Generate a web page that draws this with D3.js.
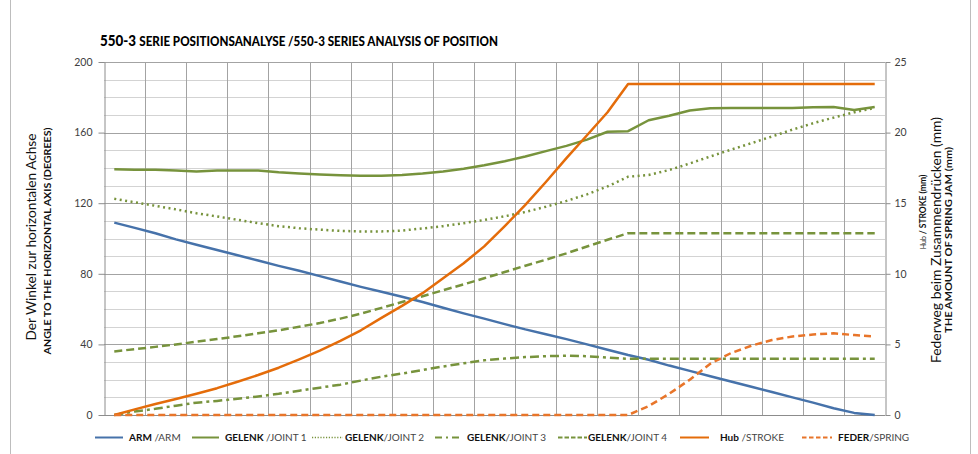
<!DOCTYPE html>
<html>
<head>
<meta charset="utf-8">
<script src="https://cdn.jsdelivr.net/npm/d3@7"></script>
<style>
  body { margin: 0; background: #fff; }
  svg { display: block; font-family: Lato, "Open Sans", sans-serif; }
</style>
</head>
<body>
<div id="chartDiv"></div>
<script>
  const steps = d3.range(38);

  // left axis, degrees
  const arm = [109, 106, 103, 99.5, 96.5, 93.5, 90.5, 87.5, 84.5, 81.7, 78.7, 75.6, 72.6, 69.8, 67, 64, 60.8, 57.6, 54.6, 51.5,
      48.5, 45.8, 43, 40, 37, 34, 31.3, 28, 25, 22, 19, 16, 13, 10, 7, 3.8, 1.2, 0];
  const joint1 = [139.3, 139, 139, 138.5, 138, 138.5, 138.5, 138.5, 137.5, 136.8, 136.3, 135.8, 135.5, 135.5, 136, 136.8, 138, 139.5, 141.5, 143.8,
      146.5, 149.5, 152.5, 156, 160.5, 160.8, 167, 169.5, 172.5, 173.8, 174, 174, 174, 174, 174.3, 174.5, 172.8, 174.5];
  const joint2 = [122.5, 120.5, 118.5, 116.5, 114.3, 112.5, 110.6, 108.7, 107, 105.8, 105, 104.3, 104, 104, 104.5, 105.7, 107, 108.7, 110.5, 112.6,
      115, 118, 121.3, 125, 129.5, 135, 136, 138.8, 142.5, 146.5, 150.3, 154, 157.8, 161.7, 165.3, 168.5, 171.5, 174];
  const joint3 = [0, 2, 3.5, 5.3, 7, 8, 9.2, 10.5, 12, 13.8, 15.5, 17.2, 19.5, 21.7, 23.5, 25.5, 27.5, 29.3, 31, 32,
      32.8, 33.3, 33.6, 33.3, 32.5, 31.8, 31.8, 31.8, 31.8, 31.8, 31.8, 31.8, 31.8, 31.8, 31.8, 31.8, 31.8, 31.8];
  const joint4 = [36, 37.3, 38.6, 40, 41.5, 43, 44.6, 46.3, 48, 50, 52.1, 54.6, 57.4, 60.7, 64, 67.3, 70.7, 74, 77.5, 81,
      84.6, 88, 91.6, 95.5, 99.3, 103, 103, 103, 103, 103, 103, 103, 103, 103, 103, 103, 103, 103];

  // right axis, mm
  const hub = [0, 0.4, 0.78, 1.13, 1.5, 1.9, 2.35, 2.83, 3.35, 3.94, 4.56, 5.25, 6.0, 6.88, 7.73, 8.63, 9.69, 10.75, 11.94, 13.38,
      14.88, 16.5, 18.19, 19.81, 21.44, 23.44, 23.44, 23.44, 23.44, 23.44, 23.44, 23.44, 23.44, 23.44, 23.44, 23.44, 23.44, 23.44];
  const feder = [0, 0, 0, 0, 0, 0, 0, 0, 0, 0, 0, 0, 0, 0, 0, 0, 0, 0, 0, 0,
      0, 0, 0, 0, 0, 0, 0.63, 1.5, 2.5, 3.63, 4.38, 4.91, 5.31, 5.56, 5.7, 5.79, 5.66, 5.56];

  const leftTicks = [0, 40, 80, 120, 160, 200];
  const rightTicks = [0, 5, 10, 15, 20, 25];

  const series = [
      { name: "ARM", rest: " /ARM", values: arm, axis: "left", color: "#4672aa", dash: null, key: null },
      { name: "GELENK", rest: " /JOINT 1", values: joint1, axis: "left", color: "#77933c", dash: null, key: null },
      { name: "GELENK", rest: "/JOINT 2", values: joint2, axis: "left", color: "#77933c", dash: "2,3.5", key: "1.2,1.6" },
      { name: "GELENK", rest: "/JOINT 3", values: joint3, axis: "left", color: "#77933c", dash: "9,4,3,4", key: "7,4,2,4" },
      { name: "GELENK", rest: "/JOINT 4", values: joint4, axis: "left", color: "#77933c", dash: "8,4", key: "4.5,2" },
      { name: "Hub", rest: " /STROKE", values: hub, axis: "right", color: "#e46c0a", dash: null, key: null },
      { name: "FEDER", rest: "/SPRING", values: feder, axis: "right", color: "#e8752a", dash: "7,4", key: "4.5,2.5" }
  ];

  const W = 978, H = 454;
  const plot = { left: 104, right: 885, top: 62, bottom: 415 };

  const svg = d3.select("#chartDiv")
      .append("svg")
      .attr("width", W)
      .attr("height", H);

  // chart frame edges
  svg.append("line").attr("x1", 10.5).attr("x2", 10.5).attr("y1", 0).attr("y2", H).attr("stroke", "#bdbdbd");
  svg.append("line").attr("x1", 970.5).attr("x2", 970.5).attr("y1", 0).attr("y2", H).attr("stroke", "#bdbdbd");

  const x = d3.scaleLinear()
      .domain([-0.5, steps.length - 0.5])
      .range([plot.left, plot.right]);
  const y = d3.scaleLinear().domain([0, 200]).range([plot.bottom, plot.top]);
  const y2 = d3.scaleLinear().domain([0, 25]).range([plot.bottom, plot.top]);

  // horizontal grid: minor every 10 degrees, major at the ticks
  const grid = svg.append("g");
  grid.selectAll("line.minor")
      .data(d3.range(10, 200, 10).filter(v => !leftTicks.includes(v)))
      .enter().append("line")
      .attr("x1", plot.left).attr("x2", plot.right)
      .attr("y1", d => Math.round(y(d)) + 0.5).attr("y2", d => Math.round(y(d)) + 0.5)
      .attr("stroke", "#d3d3d3");
  grid.selectAll("line.major")
      .data(leftTicks.slice(1))
      .enter().append("line")
      .attr("x1", plot.left).attr("x2", plot.right)
      .attr("y1", d => Math.round(y(d)) + 0.5).attr("y2", d => Math.round(y(d)) + 0.5)
      .attr("stroke", "#a3a3a3");
  // vertical grid every second step
  grid.selectAll("line.v")
      .data(d3.range(-0.5, steps.length, 2).slice(1, -1))
      .enter().append("line")
      .attr("x1", d => Math.round(x(d)) + 0.5).attr("x2", d => Math.round(x(d)) + 0.5)
      .attr("y1", plot.top).attr("y2", plot.bottom)
      .attr("stroke", "#a3a3a3");

  // axes
  const axisL = svg.append("g")
      .attr("transform", "translate(" + (plot.left + 0.5) + ",0)")
      .call(d3.axisLeft(y).tickValues(leftTicks).tickSize(6).tickPadding(6).tickSizeOuter(0));
  const axisR = svg.append("g")
      .attr("transform", "translate(" + (plot.right + 0.5) + ",0)")
      .call(d3.axisRight(y2).tickValues(rightTicks).tickSize(5).tickPadding(4).tickSizeOuter(0));
  [axisL, axisR].forEach(a => {
      a.select(".domain").attr("stroke", "#8c8c8c");
      a.selectAll(".tick line").attr("stroke", "#8c8c8c");
      a.selectAll(".tick text").attr("fill", "#404040")
          .style("font-size", "10.5px").style("font-family", "Lato, sans-serif");
  });
  svg.append("line")
      .attr("x1", plot.left).attr("x2", plot.right)
      .attr("y1", plot.bottom + 0.5).attr("y2", plot.bottom + 0.5)
      .attr("stroke", "#8c8c8c");

  // lines
  series.forEach(s => {
      const yy = s.axis === "left" ? y : y2;
      const line = d3.line()
          .x((d, i) => x(steps[i]))
          .y(d => yy(d));
      svg.append("path")
          .datum(s.values)
          .attr("fill", "none")
          .attr("stroke", s.color)
          .attr("stroke-width", 2.5)
          .attr("stroke-linejoin", "round")
          .attr("stroke-dasharray", s.dash)
          .attr("d", line);
  });

  // title
  const title = svg.append("text")
      .attr("x", 100).attr("y", 46)
      .attr("fill", "#000")
      .attr("font-weight", 900)
      .attr("textLength", 398)
      .attr("lengthAdjust", "spacingAndGlyphs");
  title.append("tspan").attr("font-size", 15).text("550-3 ");
  title.append("tspan").attr("font-size", 13).text("SERIE POSITIONSANALYSE /550-3 SERIES ANALYSIS OF POSITION");

  // axis titles
  function vText(cx, cy, str, size, weight, len) {
      svg.append("text")
          .attr("transform", "translate(" + cx + "," + cy + ") rotate(-90)")
          .attr("text-anchor", "middle")
          .attr("dy", "0.35em")
          .attr("fill", "#111")
          .attr("font-size", size)
          .attr("font-weight", weight)
          .attr("textLength", len)
          .attr("lengthAdjust", "spacingAndGlyphs")
          .text(str);
  }
  vText(31.5, 237, "Der Winkel zur horizontalen Achse", 14, "normal", 207);
  vText(47.5, 241, "ANGLE TO THE HORIZONTAL AXIS  (DEGREES)", 10, "bold", 227);
  vText(936, 240, "Federweg beim Zusammendrücken (mm)", 14, "normal", 246);
  vText(948.5, 240, "THE AMOUNT OF SPRING JAM (mm)", 9, "bold", 186);

  const hubLabel = svg.append("text")
      .attr("transform", "translate(920.5,212) rotate(-90)")
      .attr("text-anchor", "middle")
      .attr("dy", "0.35em")
      .attr("fill", "#111");
  hubLabel.append("tspan").attr("font-size", 7).text("Hub ");
  hubLabel.append("tspan").attr("font-size", 8.5).attr("font-weight", "bold").text(" / STROKE (mm)");

  // legend
  const legendPos = [
      { x1: 95, x2: 123, tx: 129 },
      { x1: 192, x2: 219, tx: 225 },
      { x1: 312, x2: 343, tx: 345 },
      { x1: 435, x2: 462, tx: 467 },
      { x1: 558, x2: 587, tx: 588 },
      { x1: 680, x2: 709, tx: 720 },
      { x1: 802, x2: 832, tx: 838 }
  ];
  const ly = 437.5;
  series.forEach((s, i) => {
      const p = legendPos[i];
      svg.append("line")
          .attr("x1", p.x1).attr("x2", p.x2)
          .attr("y1", ly).attr("y2", ly)
          .attr("stroke", s.color)
          .attr("stroke-width", s.key === "1.2,1.6" ? 1.3 : 2)
          .attr("stroke-dasharray", s.key);
      const t = svg.append("text")
          .attr("x", p.tx).attr("y", ly)
          .attr("dy", "0.35em")
          .attr("font-size", 10);
      t.append("tspan").attr("font-weight", "bold").attr("fill", "#111").text(s.name);
      t.append("tspan").attr("fill", "#444").text(s.rest);
  });
</script>
</body>
</html>
